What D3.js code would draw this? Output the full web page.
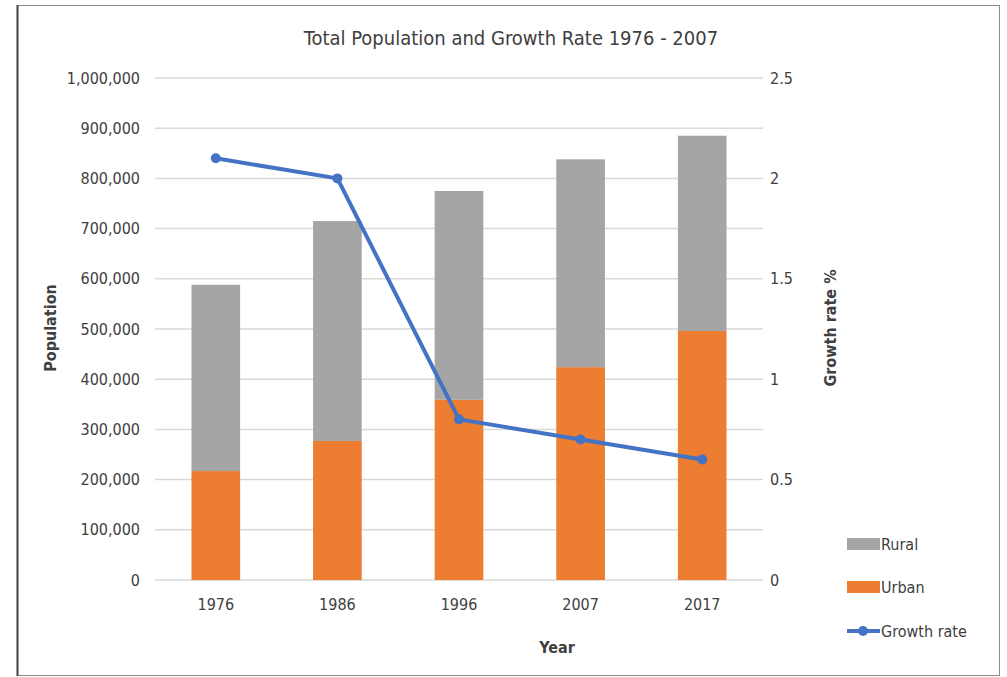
<!DOCTYPE html>
<html>
<head>
<meta charset="utf-8">
<script src="https://cdn.jsdelivr.net/npm/d3@7"></script>
<style>
  html, body { margin: 0; padding: 0; background: #fff; }
  svg { display: block; }
  text { font-family: "Liberation Sans Narrow", "Arial Narrow", "DejaVu Sans Condensed", sans-serif; fill: #404040; }
</style>
</head>
<body>
<svg id="chart" width="1007" height="677"></svg>
<script>
// Census years and population split
const years = ["1976", "1986", "1996", "2007", "2017"];
const urban = [217000, 277000, 359000, 424000, 496000];
const rural = [371000, 438000, 416000, 414000, 389000];
const growthRate = [2.1, 2.0, 0.8, 0.7, 0.6];

const popTicks = [0, 100000, 200000, 300000, 400000, 500000, 600000, 700000, 800000, 900000, 1000000];
const rateTicks = [0, 0.5, 1, 1.5, 2, 2.5];

const colors = { rural: "#a5a5a5", urban: "#ed7d31", rate: "#4472c4" };

const svg = d3.select("#chart");

// outer frame
svg.append("rect").attr("x", 17.5).attr("y", 5.5).attr("width", 982).attr("height", 670)
  .attr("fill", "none").attr("stroke", "#8c8c8c").attr("stroke-width", 1);
svg.append("line").attr("x1", 17.5).attr("x2", 17.5).attr("y1", 5).attr("y2", 676)
  .attr("stroke", "#404040").attr("stroke-width", 2);

const plot = { left: 155, right: 763, top: 78, bottom: 580 };

const x = d3.scaleBand().domain(years).range([plot.left, plot.right])
  .paddingInner(0.6).paddingOuter(0.3);
const y = d3.scaleLinear().domain([0, 1000000]).range([plot.bottom, plot.top]);
const y2 = d3.scaleLinear().domain([0, 2.5]).range([plot.bottom, plot.top]);

// gridlines
svg.append("g").selectAll("line").data(popTicks).join("line")
  .attr("x1", plot.left).attr("x2", plot.right)
  .attr("y1", d => y(d)).attr("y2", d => y(d))
  .attr("stroke", "#d9d9d9").attr("stroke-width", 1.5);

// left axis labels
const fmt = d3.format(",");
const yAxis = d3.axisLeft(y).tickValues(popTicks).tickFormat(fmt).tickSize(0).tickPadding(15);
const gy = svg.append("g").attr("transform", `translate(${plot.left},0)`).call(yAxis);
gy.select(".domain").remove();
gy.selectAll("text").style("font-size", "16px").attr("fill", "#404040")
  .style("font-family", null);
gy.attr("font-family", null);

// right axis labels
const y2Axis = d3.axisRight(y2).tickValues(rateTicks).tickFormat(d => String(d)).tickSize(0).tickPadding(7);
const gy2 = svg.append("g").attr("transform", `translate(${plot.right},0)`).call(y2Axis);
gy2.select(".domain").remove();
gy2.selectAll("text").style("font-size", "16px").attr("fill", "#404040");
gy2.attr("font-family", null);

// bottom axis labels
const xAxis = d3.axisBottom(x).tickSize(0).tickPadding(19);
const gx = svg.append("g").attr("transform", `translate(0,${plot.bottom})`).call(xAxis);
gx.select(".domain").remove();
gx.selectAll("text").style("font-size", "16px").attr("fill", "#404040");
gx.attr("font-family", null);

// stacked bars
const stacked = years.map((yr, i) => ({ year: yr, urban: urban[i], rural: rural[i] }));
const series = d3.stack().keys(["urban", "rural"])(stacked);
svg.append("g").selectAll("g").data(series).join("g")
  .attr("fill", d => colors[d.key])
  .selectAll("rect").data(d => d).join("rect")
  .attr("x", d => x(d.data.year))
  .attr("width", x.bandwidth())
  .attr("y", d => y(d[1]))
  .attr("height", d => y(d[0]) - y(d[1]));

// growth rate line
const pts = years.map((yr, i) => [x(yr) + x.bandwidth() / 2, y2(growthRate[i])]);
svg.append("path").datum(pts)
  .attr("d", d3.line())
  .attr("fill", "none").attr("stroke", colors.rate).attr("stroke-width", 4)
  .attr("stroke-linejoin", "round");
svg.append("g").selectAll("circle").data(pts).join("circle")
  .attr("cx", d => d[0]).attr("cy", d => d[1]).attr("r", 5)
  .attr("fill", colors.rate);

// title
svg.append("text").attr("x", 511).attr("y", 45).attr("text-anchor", "middle")
  .style("font-size", "20px").text("Total Population and Growth Rate 1976 - 2007");

// axis titles
svg.append("text").attr("transform", "translate(56,328) rotate(-90)")
  .attr("text-anchor", "middle").style("font-size", "16px").style("font-weight", "bold")
  .attr("fill", "#000").text("Population");
svg.append("text").attr("transform", "translate(836,328) rotate(-90)")
  .attr("text-anchor", "middle").style("font-size", "16px").style("font-weight", "bold")
  .attr("fill", "#000").text("Growth rate %");
svg.append("text").attr("x", 557).attr("y", 653).attr("text-anchor", "middle")
  .style("font-size", "16px").style("font-weight", "bold").attr("fill", "#000").text("Year");

// legend
const legend = svg.append("g");
const legendItems = [
  { label: "Rural", type: "rect", color: colors.rural, cy: 544 },
  { label: "Urban", type: "rect", color: colors.urban, cy: 587 },
  { label: "Growth rate", type: "line", color: colors.rate, cy: 631 }
];
legendItems.forEach(it => {
  if (it.type === "rect") {
    legend.append("rect").attr("x", 847).attr("y", it.cy - 6).attr("width", 33).attr("height", 12)
      .attr("fill", it.color);
  } else {
    legend.append("line").attr("x1", 847).attr("x2", 880).attr("y1", it.cy).attr("y2", it.cy)
      .attr("stroke", it.color).attr("stroke-width", 4);
    legend.append("circle").attr("cx", 863).attr("cy", it.cy).attr("r", 5).attr("fill", it.color);
  }
  legend.append("text").attr("x", 881).attr("y", it.cy).attr("dy", "0.35em")
    .style("font-size", "16px").attr("fill", "#404040").text(it.label);
});
</script>
</body>
</html>
